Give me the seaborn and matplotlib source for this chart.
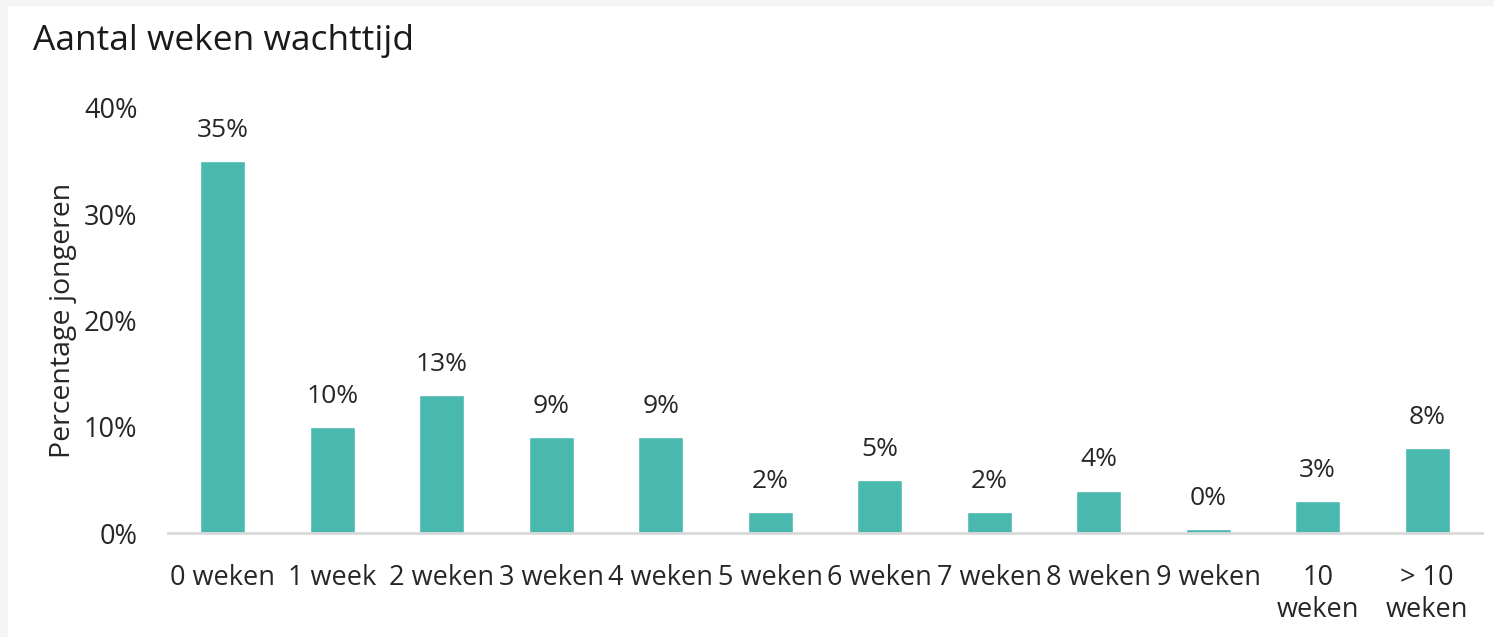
import pandas as pd
import numpy as np
import matplotlib
matplotlib.use('Agg')
import matplotlib.pyplot as plt
from matplotlib.patches import Rectangle
from matplotlib.ticker import FuncFormatter
import seaborn as sns

# data
categories = ['0 weken', '1 week', '2 weken', '3 weken', '4 weken', '5 weken',
              '6 weken', '7 weken', '8 weken', '9 weken', '10\nweken', '> 10\nweken']
values = [35, 10, 13, 9, 9, 2, 5, 2, 4, 0.4, 3, 8]
labels = ['35%', '10%', '13%', '9%', '9%', '2%', '5%', '2%', '4%', '0%', '3%', '8%']

sns.set_style('white')
plt.rcParams['font.family'] = ['Open Sans', 'DejaVu Sans']

bar_color = '#49b9b0'
text_color = '#262626'

df = pd.DataFrame({'cat': categories, 'val': values})

fig = plt.figure(figsize=(14.94, 6.37), dpi=100)
fig.patch.set_facecolor('#f6f4f4')
# white card (screenshot has a thin gray border top/left)
fig.patches.append(Rectangle((8 / 1494, 0), 1, 1 - 6 / 637, transform=fig.transFigure,
                             facecolor='white', edgecolor='none', zorder=-1))

ax = fig.add_axes([168 / 1494, 1 - 533 / 637, (1482 - 168) / 1494, (533 - 108) / 637])
ax.set_facecolor('none')

sns.barplot(data=df, x='cat', y='val', color=bar_color, width=0.41, ax=ax, saturation=1)

ax.set_ylim(0, 40)
ax.set_xlim(-0.5, len(categories) - 0.5)
ax.set_yticks([0, 10, 20, 30, 40])
ax.yaxis.set_major_formatter(FuncFormatter(lambda v, p: f'{v:.0f}%'))

for i, (v, lab) in enumerate(zip(values, labels)):
    ax.annotate(lab, xy=(i, v), xytext=(0, 13), textcoords='offset points',
                ha='center', va='bottom', fontsize=19, color=text_color)

ax.set_xlabel('')
ax.set_ylabel('Percentage jongeren', fontsize=20.5, color=text_color, labelpad=5)
ax.tick_params(axis='both', length=0, labelsize=19.5, colors=text_color)
ax.tick_params(axis='x', pad=22)
ax.tick_params(axis='y', pad=22)
for lab in ax.get_xticklabels():
    lab.set_linespacing(1.2)

sns.despine(ax=ax, left=True)
ax.spines['bottom'].set_color('#d9d9d9')
ax.spines['bottom'].set_linewidth(2)

fig.text(33 / 1494, 1 - 41 / 637, 'Aantal weken wachttijd', fontsize=25.5,
         color='#1a1a1a', ha='left', va='center')

plt.savefig('out.png', dpi=100)
